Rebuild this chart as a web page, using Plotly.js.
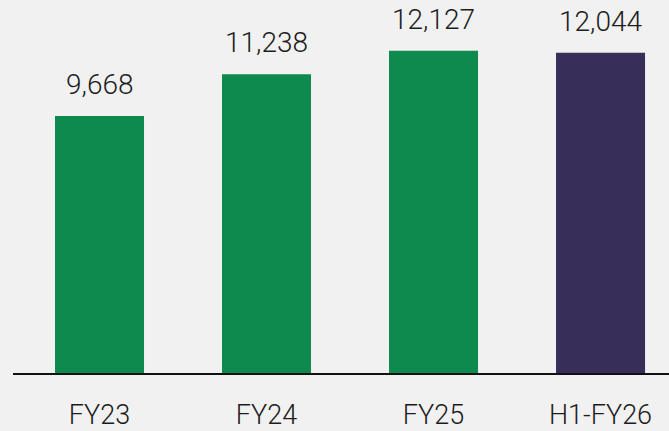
<!DOCTYPE html>
<html>
<head>
<meta charset="utf-8">
<script src="https://cdn.plot.ly/plotly-3.0.1.min.js"></script>
<style>html,body{margin:0;padding:0;background:#f1f1f1;}#chart{width:669px;height:431px;}</style>
</head>
<body>
<div id="chart"></div>
<script>
const categories = ["FY23", "FY24", "FY25", "H1-FY26"];
const values = [9668, 11238, 12127, 12044];
const valueLabels = ["9,668", "11,238", "12,127", "12,044"];
const barColors = ["#0f8a4f", "#0f8a4f", "#0f8a4f", "#372f5a"];

const FONT = 'Roboto, "Open Sans", sans-serif';

const trace = {
  type: 'bar',
  x: categories,
  y: values,
  marker: {color: barColors, line: {width: 0}},
  hoverinfo: 'none'
};

const annotations = categories.map((c, i) => ({
  x: c, y: values[i], text: valueLabels[i],
  xref: 'x', yref: 'y', showarrow: false,
  yanchor: 'bottom', yshift: 13,
  font: {family: FONT, size: 28, weight: 300, color: '#1c1c1c'}
}));

const layout = {
  width: 669, height: 431,
  margin: {l: 13, r: 0, t: 0, b: 58},
  paper_bgcolor: '#f1f1f1',
  plot_bgcolor: 'rgba(0,0,0,0)',
  bargap: 0.467,
  showlegend: false,
  xaxis: {
    type: 'category',
    range: [-0.518, 3.41],
    showline: true, linecolor: '#111', linewidth: 2,
    showgrid: false, zeroline: false,
    ticks: 'outside', ticklen: 17, tickcolor: 'rgba(0,0,0,0)',
    tickfont: {family: FONT, size: 27, weight: 300, color: '#1c1c1c'},
    fixedrange: true
  },
  yaxis: {
    range: [0, 14032],
    visible: false, showgrid: false, zeroline: false,
    fixedrange: true
  },
  annotations: annotations
};

Plotly.newPlot('chart', [trace], layout, {displayModeBar: false, staticPlot: true});
</script>
</body>
</html>
